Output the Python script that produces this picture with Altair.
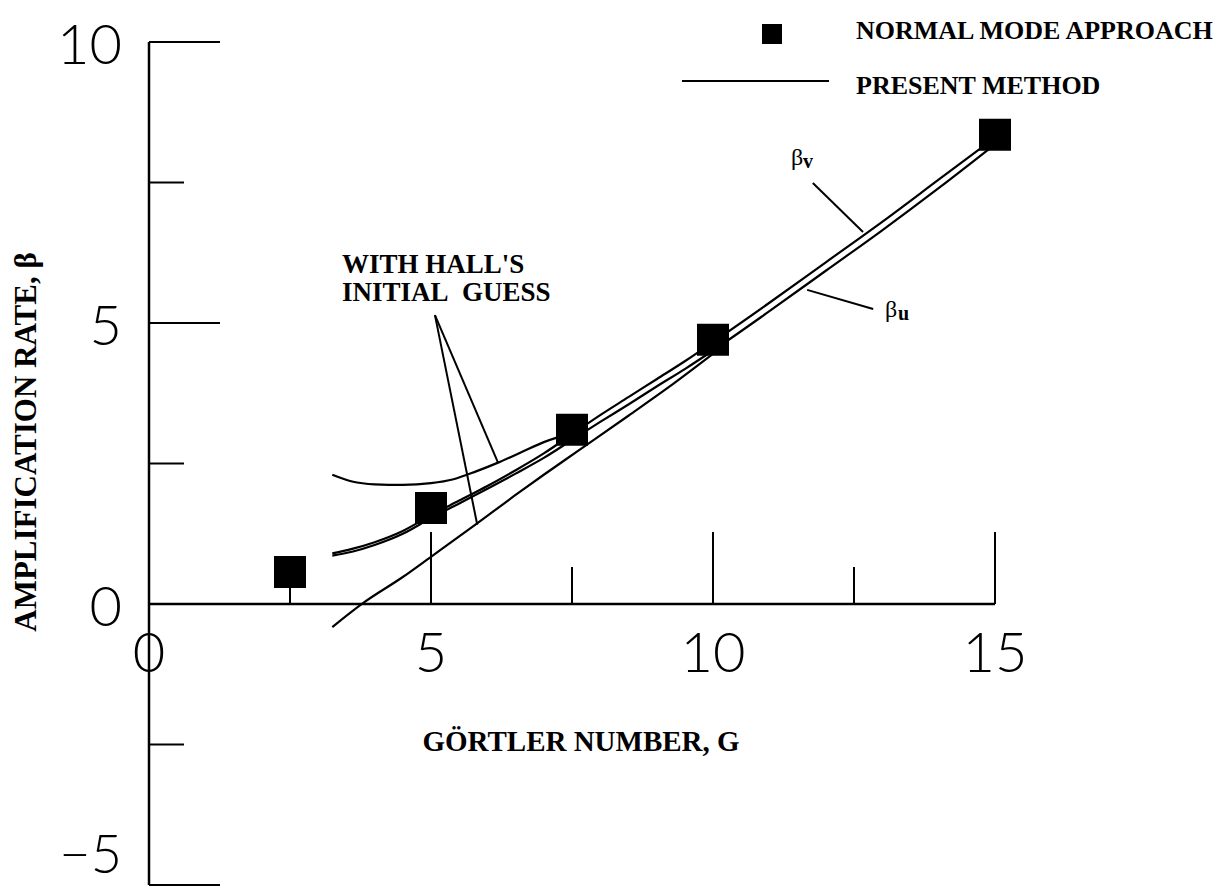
import altair as alt
import pandas as pd

# ---------------- data ----------------
# Normal mode approach (squares)
G_nm = [2.5, 5.0, 7.5, 10.0, 15.0]
beta_nm = [0.57, 1.71, 3.10, 4.70, 8.35]

# Present method, beta_v and beta_u
G_pm = [3.25, 3.6, 4.0, 4.5, 5.0, 5.5, 6.0, 6.5, 7.0, 7.5, 8.0, 8.5, 9.0, 9.5,
        10.0, 11.0, 12.0, 13.0, 14.0, 15.0]
beta_v = [0.90, 0.98, 1.10, 1.30, 1.58, 1.84, 2.10, 2.38, 2.68, 3.02, 3.36, 3.68,
          4.00, 4.32, 4.66, 5.36, 6.08, 6.80, 7.55, 8.30]
beta_u = [0.86, 0.93, 1.05, 1.25, 1.53, 1.79, 2.05, 2.32, 2.60, 2.92, 3.24, 3.55,
          3.87, 4.18, 4.51, 5.21, 5.93, 6.65, 7.40, 8.18]

# With Hall's initial guess (upper and lower curves)
G_hu = [3.25, 3.6, 4.0, 4.5, 5.0, 5.4, 5.8, 6.2, 6.6, 7.0, 7.5]
beta_hu = [2.30, 2.18, 2.13, 2.12, 2.15, 2.22, 2.36, 2.52, 2.70, 2.88, 3.04]
G_hl = [3.25, 3.8, 4.5, 5.0, 5.8, 6.5, 7.0, 7.6, 8.5, 9.3, 10.0]
beta_hl = [-0.41, 0.02, 0.48, 0.84, 1.42, 1.94, 2.30, 2.72, 3.35, 3.92, 4.45]

# Axis ticks / labels
x_major = [5, 10, 15]
x_minor = [2.5, 7.5, 12.5]
y_major = [10, 5, -5]
y_minor = [7.5, 2.5, -2.5]
x_labels = ["0", "5", "10", "15"]
x_label_vals = [0, 5, 10, 15]
y_labels = ["10", "5", "0"]
y_label_vals = [10, 5, 0]

# ---------------- layout constants ----------------
W, H = 846, 843
PX_PER_Y = H / 15.0
BOLD_SERIF = "Liberation Serif"
THIN = "Lato"
THIN_W = 300

xs = alt.Scale(domain=[0, 15], nice=False, zero=False)
ys = alt.Scale(domain=[-5, 10], nice=False, zero=False)


def X(**kw):
    return alt.X(scale=xs, axis=None, **kw)


def Y(**kw):
    return alt.Y(scale=ys, axis=None, **kw)


one = pd.DataFrame({"a": [0]})

curve_df = pd.concat([
    pd.DataFrame({"G": G_pm, "beta": beta_v, "series": "beta_v"}),
    pd.DataFrame({"G": G_pm, "beta": beta_u, "series": "beta_u"}),
    pd.DataFrame({"G": G_hu, "beta": beta_hu, "series": "hall_upper"}),
    pd.DataFrame({"G": G_hl, "beta": beta_hl, "series": "hall_lower"}),
], ignore_index=True)

nm_df = pd.DataFrame({"G": G_nm, "beta": beta_nm})

layers = []

# axis lines
layers.append(alt.Chart(one).mark_rule(color="black", strokeWidth=2.5).encode(
    x=X(datum=0), y=Y(datum=-5), y2=alt.Y2(datum=10)))
layers.append(alt.Chart(one).mark_rule(color="black", strokeWidth=2.5).encode(
    x=X(datum=0), x2=alt.X2(datum=15), y=Y(datum=0)))

# ticks (pointing inward)
for vals, ln in [(x_major, 72), (x_minor, 37)]:
    layers.append(alt.Chart(pd.DataFrame({"v": vals})).mark_rule(color="black", strokeWidth=2).encode(
        x=X(field="v", type="quantitative"), y=Y(datum=0), y2=alt.Y2(datum=ln / PX_PER_Y)))
for vals, ln in [(y_major, 71), (y_minor, 35)]:
    layers.append(alt.Chart(pd.DataFrame({"v": vals})).mark_rule(color="black", strokeWidth=2).encode(
        y=Y(field="v", type="quantitative"), x=alt.value(0), x2=alt.value(ln)))

# tick labels
layers.append(alt.Chart(pd.DataFrame({"v": x_label_vals, "t": x_labels})).mark_text(
    font=THIN, fontWeight=THIN_W, fontSize=56, align="center", baseline="alphabetic", dy=68, color="black"
).encode(x=X(field="v", type="quantitative"), y=Y(datum=0), text="t:N"))
layers.append(alt.Chart(pd.DataFrame({"v": y_label_vals, "t": y_labels})).mark_text(
    font=THIN, fontWeight=THIN_W, fontSize=56, align="right", baseline="alphabetic", dx=-27, dy=22, color="black"
).encode(x=X(datum=0), y=Y(field="v", type="quantitative"), text="t:N"))
layers.append(alt.Chart(pd.DataFrame({"v": [-5], "t": ["\u22125"]})).mark_text(
    font=THIN, fontWeight=THIN_W, fontSize=54, align="right", baseline="bottom", dx=-27, dy=-1, color="black"
).encode(x=X(datum=0), y=Y(field="v", type="quantitative"), text="t:N"))

# curves
layers.append(alt.Chart(curve_df).mark_line(color="black", strokeWidth=2.2, interpolate="monotone").encode(
    x=X(field="G", type="quantitative"), y=Y(field="beta", type="quantitative"),
    detail="series:N", order="G:Q"))

# normal mode squares
layers.append(alt.Chart(nm_df).mark_square(size=1024, color="black", opacity=1, filled=True).encode(
    x=X(field="G", type="quantitative"), y=Y(field="beta", type="quantitative")))

# leader lines (data space)
leaders = [
    (5.07, 5.14, 6.19, 2.51),
    (5.07, 5.14, 5.82, 1.41),
    (11.77, 7.49, 12.66, 6.62),
    (12.84, 5.25, 11.67, 5.59),
]
for x1, y1, x2, y2 in leaders:
    layers.append(alt.Chart(one).mark_rule(color="black", strokeWidth=2).encode(
        x=X(datum=x1), y=Y(datum=y1), x2=alt.X2(datum=x2), y2=alt.Y2(datum=y2)))


def txt(s, px, py, size, weight="bold", font=BOLD_SERIF, align="left", baseline="middle", angle=0):
    kw = dict(text=s, font=font, fontSize=size, fontWeight=weight, align=align,
              baseline=baseline, color="black")
    if angle:
        kw["angle"] = angle
    return alt.Chart(one).mark_text(**kw).encode(x=alt.value(px), y=alt.value(py))


# axis titles
layers.append(txt("AMPLIFICATION RATE, \u03b2", -122, 400, 31, align="center", angle=270))
layers.append(txt("G\u00d6RTLER NUMBER, G", 432, 700, 29, align="center"))

# annotation
layers.append(txt("WITH HALL'S", 193, 223, 27))
layers.append(txt("INITIAL\u00a0 GUESS", 193, 251, 27))
layers.append(txt("\u03b2", 642, 123, 24, weight="normal", baseline="alphabetic"))
layers.append(txt("v", 654, 126, 20, baseline="alphabetic"))
layers.append(txt("\u03b2", 736, 275, 24, weight="normal", baseline="alphabetic"))
layers.append(txt("u", 749, 278, 20, baseline="alphabetic"))

# legend
layers.append(alt.Chart(one).mark_square(size=400, color="black", opacity=1, filled=True).encode(
    x=alt.value(623), y=alt.value(-8)))
layers.append(alt.Chart(one).mark_rule(color="black", strokeWidth=2).encode(
    x=alt.value(533), x2=alt.value(680), y=alt.value(39)))
layers.append(txt("NORMAL MODE APPROACH", 707, -11, 26))
layers.append(txt("PRESENT METHOD", 707, 44, 26))

chart = alt.layer(*layers).properties(
    width=W, height=H,
    autosize=alt.AutoSizeParams(type="none"),
    padding={"left": 141, "top": 34, "right": 225, "bottom": 1},
).configure_view(stroke=None)

chart.save("out.html", embed_options={"renderer": "svg", "actions": False})
